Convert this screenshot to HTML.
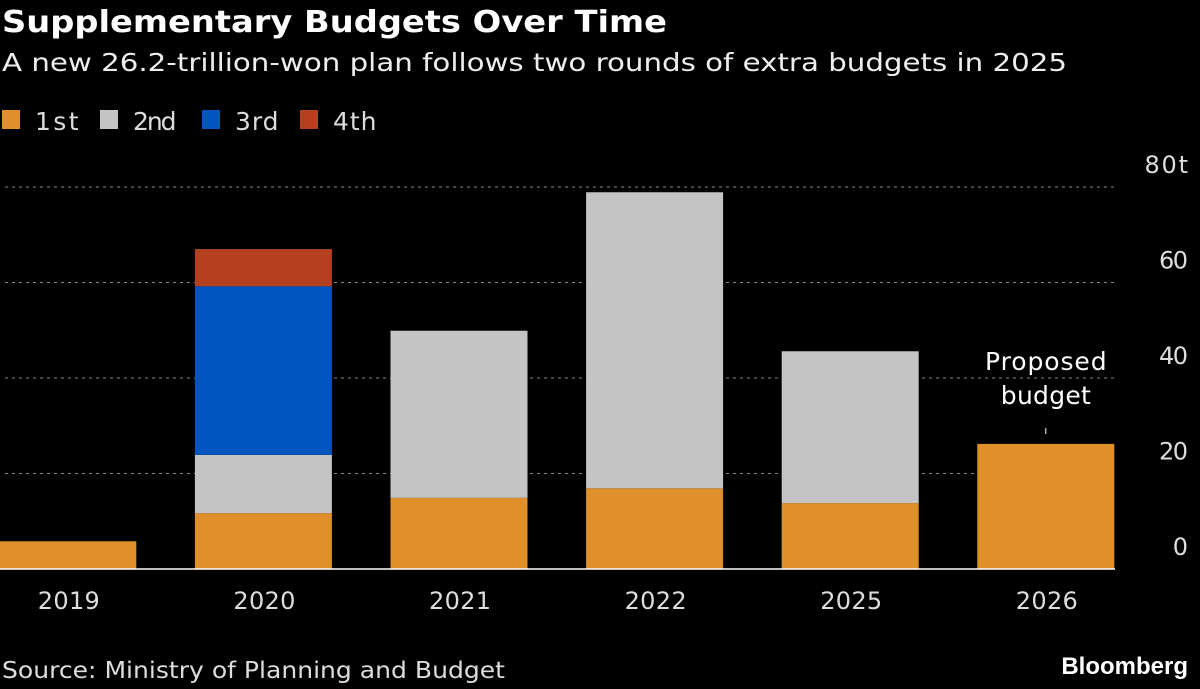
<!DOCTYPE html>
<html><head><meta charset="utf-8">
<style>
html,body{margin:0;padding:0;background:#000;}
body{width:1200px;height:689px;position:relative;overflow:hidden;font-family:"DejaVu Sans","Liberation Sans",sans-serif;color:#fff;}
.t{position:absolute;white-space:nowrap;}
</style></head>
<body>
<div class="t" style="right:12px;top:653px;font-size:24px;font-weight:bold;font-family:'Liberation Sans',sans-serif;">Bloomberg</div>
<svg id="chart" width="1200" height="689" style="position:absolute;left:0;top:0;"></svg>
<script>
const categories=["2019","2020","2021","2022","2025","2026"];
const seriesNames=["1st","2nd","3rd","4th"];
const colors=["#e0902a","#c4c4c4","#0055c0","#b5401f"];
const first=[5.8,11.7,14.9,16.9,13.8,26.2];
const second=[0,12.2,35.0,62.0,31.8,0];
const third=[0,35.3,0,0,0,0];
const fourth=[0,7.8,0,0,0,0];
const yTicks=[0,20,40,60,80];
const yTickLabels=["0","20","40","60","80t"];
const series=[first,second,third,fourth];
const NS="http://www.w3.org/2000/svg";
const svg=document.getElementById('chart');
const y0=569,pxPerUnit=382/80;
const y=v=>y0-v*pxPerUnit;
const band=195.6,startX=-30,barW=137;
const xc=i=>startX+band*i+band/2;
const FF='DejaVu Sans, Liberation Sans, sans-serif';
function mk(tag,attrs){const e=document.createElementNS(NS,tag);for(const k in attrs)e.setAttribute(k,attrs[k]);svg.appendChild(e);return e;}
function txt(s,attrs,perChar){const a=Object.assign({'font-family':FF,fill:'#ddd'},attrs);
  if(perChar){a.textLength=perChar*s.length;a.lengthAdjust='spacing';}
  const e=mk('text',a);e.textContent=s;return e;}
const title=txt('Supplementary Budgets Over Time',{x:2,y:32,'font-size':30,'font-weight':'bold',fill:'#fff',textLength:665,lengthAdjust:'spacingAndGlyphs'});


const sub=txt('A new 26.2-trillion-won plan follows two rounds of extra budgets in 2025',{x:2,y:71,'font-size':25,fill:'#eee',textLength:1065,lengthAdjust:'spacingAndGlyphs'});


const src=txt('Source: Ministry of Planning and Budget',{x:2,y:678,'font-size':23,textLength:503,lengthAdjust:'spacingAndGlyphs'});


yTicks.forEach((t,i)=>{
  if(t>0){const g=mk('line',{x1:5,x2:1115,y1:y(t),y2:y(t),stroke:'#888','stroke-width':1,'stroke-dasharray':'3,4'});
  
  }
  const tx=txt(yTickLabels[i],{x:1188,y:y(t)-14,'text-anchor':'end','font-size':24},14.5);
  
  
});
categories.forEach((c,i)=>{
  let acc=0;
  series.forEach((s,k)=>{
    const v=s[i];if(!v)return;
    let x=xc(i)-barW/2,w=barW;
    if(x<0){w+=x;x=0;}
    const r=mk('rect',{x:x,y:y(acc+v),width:w,height:v*pxPerUnit,fill:colors[k]});
    
    
    acc+=v;
  });
  const lab=txt(c,{x:xc(i)+1,y:609,'text-anchor':'middle','font-size':24},15.5);
  
  
});
const base=mk('line',{x1:0,x2:1115,y1:y0,y2:y0,stroke:'#fff','stroke-width':1.5});


const ai=5;
const a1=txt('Proposed',{x:xc(ai),y:370,'text-anchor':'middle','font-size':25,fill:'#fff'},15.2);


const a2=txt('budget',{x:xc(ai),y:404,'text-anchor':'middle','font-size':25,fill:'#fff'},15);


const al=mk('line',{x1:xc(ai),x2:xc(ai),y1:428,y2:434,stroke:'#fff','stroke-width':1});


const lx=[2,100,202,300];
seriesNames.forEach((n,k)=>{
  const r=mk('rect',{x:lx[k],y:110,width:18,height:19,fill:colors[k]});
  
  
  const t=txt(n,{x:lx[k]+33,y:130,'font-size':25},14.5);
  
  
});
</script>
</body></html>
